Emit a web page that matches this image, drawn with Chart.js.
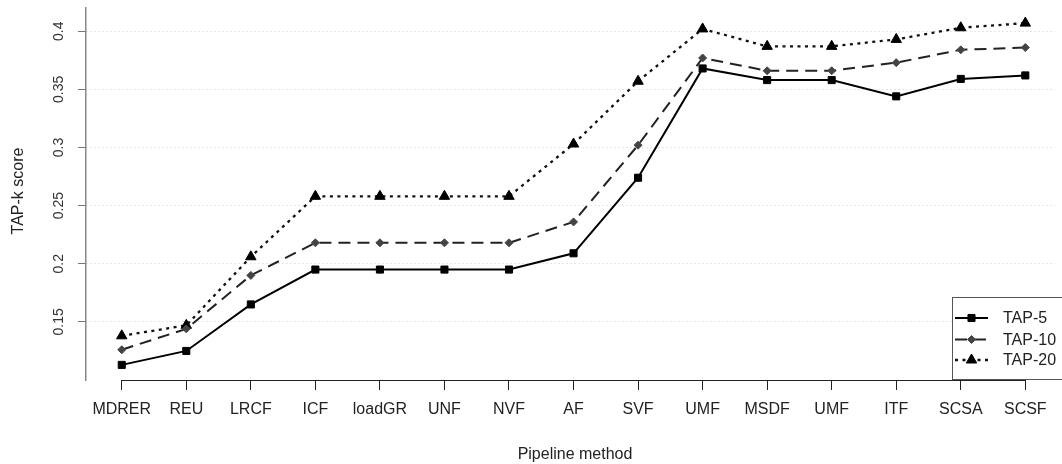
<!DOCTYPE html>
<html><head><meta charset="utf-8">
<script src="https://cdn.jsdelivr.net/npm/chart.js@4.4.1/dist/chart.umd.min.js"></script>
<style>html,body{margin:0;padding:0;background:#fff;overflow:hidden}#c{display:block}</style>
</head><body>
<canvas id="c" width="1062" height="464"></canvas>
<script>
const categories = ['MDRER','REU','LRCF','ICF','loadGR','UNF','NVF','AF','SVF','UMF','MSDF','UMF','ITF','SCSA','SCSF'];
const tap5  = [0.113,0.125,0.165,0.195,0.195,0.195,0.195,0.209,0.274,0.368,0.358,0.358,0.344,0.359,0.362];
const tap10 = [0.126,0.144,0.190,0.218,0.218,0.218,0.218,0.236,0.302,0.377,0.366,0.366,0.373,0.384,0.386];
const tap20 = [0.138,0.147,0.206,0.258,0.258,0.258,0.258,0.303,0.357,0.402,0.387,0.387,0.393,0.403,0.407];
const yTicks = [0.15,0.2,0.25,0.3,0.35,0.4];
const seriesNames = ['TAP-5','TAP-10','TAP-20'];

const FONT = '"Liberation Sans", Arial, sans-serif';
const toPts = arr => arr.map((v, i) => ({x: i + 1, y: v}));

const styles = [
  {borderColor:'#000', borderWidth:2, borderDash:[], pointStyle:'rect', pointRadius:5, pointBackgroundColor:'#000', pointBorderColor:'#000'},
  {borderColor:'#222', borderWidth:2, borderDash:[12,7], pointStyle:'rectRot', pointRadius:4, pointBackgroundColor:'#444', pointBorderColor:'#444'},
  {borderColor:'#111', borderWidth:2.3, borderDash:[3,4.5], pointStyle:'triangle', pointRadius:6, pointBackgroundColor:'#000', pointBorderColor:'#000'}
];

const datasets = [tap5, tap10, tap20].map((arr, k) => Object.assign({
  label: seriesNames[k], data: toPts(arr), tension: 0, fill: false,
  pointBorderWidth: 1, pointHoverRadius: 0, clip: false
}, styles[k]));

const extrasPlugin = {
  id: 'extras',
  afterDraw(chart) {
    const ctx = chart.ctx, xs = chart.scales.x, ys = chart.scales.y, ca = chart.chartArea;
    ctx.save();
    ctx.strokeStyle = '#222'; ctx.lineWidth = 1; ctx.setLineDash([]);
    ctx.beginPath();
    ctx.moveTo(xs.getPixelForValue(1), Math.round(ca.bottom) + 0.5);
    ctx.lineTo(xs.getPixelForValue(categories.length), Math.round(ca.bottom) + 0.5);
    ctx.stroke();
    ctx.fillStyle = '#333'; ctx.font = '14px ' + FONT;
    ctx.textAlign = 'center'; ctx.textBaseline = 'middle';
    yTicks.forEach(v => {
      const y = ys.getPixelForValue(v);
      ctx.save(); ctx.translate(59, y); ctx.rotate(-Math.PI / 2);
      ctx.fillText(String(v), 0, 0); ctx.restore();
    });
    ctx.font = '16px ' + FONT; ctx.fillStyle = '#222';
    ctx.save(); ctx.translate(19, 191); ctx.rotate(-Math.PI / 2);
    ctx.fillText('TAP-k score', 0, 0); ctx.restore();
    ctx.textBaseline = 'alphabetic';
    ctx.fillText('Pipeline method', 575, 459);
    ctx.fillStyle = '#fff';
    ctx.fillRect(952.5, 297.5, 120, 82);
    ctx.strokeStyle = '#555'; ctx.lineWidth = 1;
    ctx.strokeRect(952.5, 297.5, 120, 82);
    const ly = [318, 339.5, 360];
    chart.data.datasets.forEach((ds, k) => {
      ctx.save();
      ctx.strokeStyle = ds.borderColor; ctx.lineWidth = ds.borderWidth;
      ctx.setLineDash(ds.borderDash);
      ctx.beginPath(); ctx.moveTo(955, ly[k]); ctx.lineTo(988, ly[k]); ctx.stroke();
      ctx.setLineDash([]);
      ctx.fillStyle = ds.pointBackgroundColor; ctx.strokeStyle = ds.pointBorderColor; ctx.lineWidth = 1;
      Chart.helpers.drawPoint(ctx, {pointStyle: ds.pointStyle, radius: ds.pointRadius, borderWidth: 1, rotation: 0}, 971.5, ly[k]);
      ctx.restore();
      ctx.fillStyle = '#222'; ctx.font = '16px ' + FONT;
      ctx.textAlign = 'left'; ctx.textBaseline = 'middle';
      ctx.fillText(ds.label, 1003, ly[k] + 1);
    });
    ctx.restore();
  }
};

new Chart(document.getElementById('c'), {
  type: 'line',
  data: {datasets},
  options: {
    responsive: false, animation: false, devicePixelRatio: 1,
    layout: {padding: {top: 8, right: 0, left: 0, bottom: 0}},
    plugins: {legend: {display: false}, tooltip: {enabled: false}},
    events: [],
    scales: {
      x: {
        type: 'linear', min: 0.446, max: 15.46,
        afterBuildTicks: s => { s.ticks = categories.map((_, i) => ({value: i + 1})); },
        afterFit: s => { s.height = 84; },
        ticks: {
          autoSkip: false, maxRotation: 0, minRotation: 0, padding: 10,
          font: {family: FONT, size: 16}, color: '#222',
          callback: v => categories[Math.round(v) - 1]
        },
        grid: {display: true, drawOnChartArea: false, drawTicks: true, tickLength: 10, tickColor: '#222', tickWidth: 1},
        border: {display: false}
      },
      y: {
        type: 'linear', min: 0.1, max: 0.42,
        afterBuildTicks: s => { s.ticks = yTicks.map(v => ({value: v})); },
        afterFit: s => { s.width = 86; },
        ticks: {display: false},
        grid: {display: true, drawOnChartArea: true, drawTicks: true, tickLength: 8, tickColor: '#777', tickWidth: 1, color: '#cfcfcf', lineWidth: 1},
        border: {display: true, color: '#888', width: 1.5, dash: [1, 3]}
      }
    }
  },
  plugins: [extrasPlugin]
});
</script>
</body></html>
